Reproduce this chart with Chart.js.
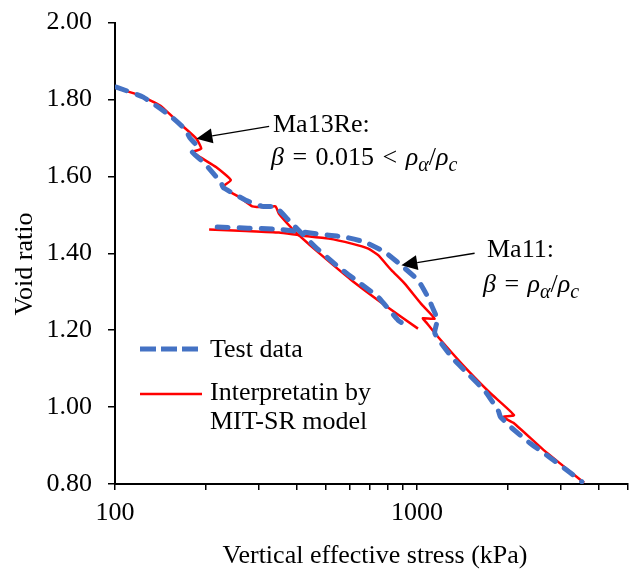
<!DOCTYPE html>
<html>
<head>
<meta charset="utf-8">
<script src="https://cdn.jsdelivr.net/npm/chart.js@4/dist/chart.umd.min.js"></script>
<style>
  html, body { margin: 0; padding: 0; background: #fff; }
</style>
</head>
<body>
<canvas id="chart" width="636" height="574"></canvas>
<script>
// Ma13Re - test data
const ma13TestStress = [101, 124, 152, 171, 177, 186, 180, 198, 225, 228, 271, 307, 340, 376, 415, 461, 550, 640, 744, 866, 934];
const ma13TestVoid   = [1.832, 1.806, 1.758, 1.722, 1.700, 1.680, 1.664, 1.634, 1.582, 1.571, 1.538, 1.522, 1.520, 1.486, 1.452, 1.416, 1.364, 1.325, 1.286, 1.226, 1.209];

// Ma13Re - MIT-SR model
const ma13ModelStress = [101, 121, 141, 164, 186, 193, 181, 216, 242, 227, 258, 285, 316, 340, 349, 385, 406, 483, 607, 783, 1008];
const ma13ModelVoid   = [1.830, 1.810, 1.784, 1.737, 1.698, 1.672, 1.663, 1.624, 1.590, 1.572, 1.546, 1.522, 1.520, 1.522, 1.503, 1.465, 1.447, 1.395, 1.330, 1.265, 1.204];

// Ma11 - test data
const ma11TestStress = [218, 349, 510, 578, 673, 783, 886, 1008, 1087, 1155, 1173, 1146, 1313, 1491, 1686, 1861, 1889, 2038, 2371, 2733, 3139, 3516];
const ma11TestVoid   = [1.468, 1.462, 1.447, 1.442, 1.429, 1.403, 1.369, 1.330, 1.286, 1.239, 1.231, 1.192, 1.127, 1.083, 1.040, 0.990, 0.975, 0.949, 0.906, 0.871, 0.836, 0.806];

// Ma11 - MIT-SR model
const ma11ModelStress = [205, 271, 349, 406, 510, 608, 690, 744, 823, 911, 1031, 1144, 1046, 1071, 1173, 1472, 1751, 2096, 1918, 2096, 2630, 3580];
const ma11ModelVoid   = [1.462, 1.458, 1.454, 1.447, 1.438, 1.425, 1.412, 1.395, 1.356, 1.321, 1.269, 1.230, 1.231, 1.221, 1.183, 1.096, 1.036, 0.979, 0.975, 0.958, 0.888, 0.803];

const xTickValues = [100, 200, 300, 400, 500, 600, 700, 800, 900, 1000, 2000, 3000, 4000, 5000];
const xTickLabels = { 100: '100', 1000: '1000' };

const FONT = '"Liberation Serif", "Times New Roman", serif';
const BLUE = '#4472C4';
const RED = '#FF0000';

function toPoints(xs, ys) {
    return xs.map((x, i) => ({ x: x, y: ys[i] }));
}

function testSet(label, xs, ys) {
    return {
        label: label,
        data: toPoints(xs, ys),
        borderColor: BLUE,
        borderWidth: 5,
        borderDash: [11, 11],
        borderCapStyle: 'round',
        pointRadius: 0,
        tension: 0.15,
        fill: false
    };
}

function modelSet(label, xs, ys) {
    return {
        label: label,
        data: toPoints(xs, ys),
        borderColor: RED,
        borderWidth: 2.5,
        pointRadius: 0,
        tension: 0.15,
        fill: false
    };
}

// text bits with italics, subscripts and gaps
function drawRich(ctx, x, y, parts, size) {
    parts.forEach(p => {
        if (p.gap) { x += p.gap; return; }
        const s = p.sub ? Math.round(size * 0.75) : size;
        ctx.font = (p.it ? 'italic ' : '') + s + 'px ' + FONT;
        ctx.fillText(p.t, x, y + (p.sub ? size * 0.22 : 0));
        x += ctx.measureText(p.t).width;
    });
}

function drawArrow(ctx, x1, y1, x2, y2) {
    const ang = Math.atan2(y2 - y1, x2 - x1);
    const hl = 16, hw = 7.5;
    const bx = x2 - hl * Math.cos(ang), by = y2 - hl * Math.sin(ang);
    ctx.beginPath();
    ctx.moveTo(x1, y1);
    ctx.lineTo(bx, by);
    ctx.stroke();
    ctx.beginPath();
    ctx.moveTo(x2, y2);
    ctx.lineTo(bx + hw * Math.sin(ang), by - hw * Math.cos(ang));
    ctx.lineTo(bx - hw * Math.sin(ang), by + hw * Math.cos(ang));
    ctx.closePath();
    ctx.fill();
}

// arrows: [stress, void] of tail and tip
const arrows = [
    { from: [324, 1.730], to: [186, 1.698] },
    { from: [1552, 1.400], to: [888, 1.369] }
];

const decorPlugin = {
    id: 'decor',
    afterDatasetsDraw(chart) {
        const ctx = chart.ctx;
        const xs = chart.scales.x, ys = chart.scales.y;
        ctx.save();
        ctx.fillStyle = '#000';
        ctx.strokeStyle = '#000';
        ctx.lineWidth = 1.3;
        ctx.textBaseline = 'alphabetic';
        ctx.textAlign = 'left';

        arrows.forEach(a => {
            drawArrow(ctx,
                xs.getPixelForValue(a.from[0]), ys.getPixelForValue(a.from[1]),
                xs.getPixelForValue(a.to[0]), ys.getPixelForValue(a.to[1]));
        });

        // annotations
        drawRich(ctx, 273, 132, [{ t: 'Ma13Re:' }], 26);
        drawRich(ctx, 271, 165, [
            { t: 'β', it: true }, { gap: 2 }, { t: ' = ' }, { gap: 2 }, { t: '0.015' },
            { gap: 2 }, { t: ' < ' }, { gap: 2 },
            { t: 'ρ', it: true }, { t: 'α', it: true, sub: true },
            { t: '/' }, { t: 'ρ', it: true }, { t: 'c', it: true, sub: true }
        ], 26);
        drawRich(ctx, 487, 257, [{ t: 'Ma11:' }], 26);
        drawRich(ctx, 483, 292, [
            { t: 'β', it: true }, { gap: 2 }, { t: ' = ' }, { gap: 2 },
            { t: 'ρ', it: true }, { t: 'α', it: true, sub: true },
            { t: '/' }, { t: 'ρ', it: true }, { t: 'c', it: true, sub: true }
        ], 26);

        // legend
        ctx.save();
        ctx.strokeStyle = BLUE;
        ctx.lineWidth = 5;
        ctx.lineCap = 'butt';
        ctx.setLineDash([16, 5]);
        ctx.beginPath();
        ctx.moveTo(140, 349);
        ctx.lineTo(198, 349);
        ctx.stroke();
        ctx.restore();
        ctx.save();
        ctx.strokeStyle = RED;
        ctx.lineWidth = 2.5;
        ctx.beginPath();
        ctx.moveTo(140, 394);
        ctx.lineTo(202, 394);
        ctx.stroke();
        ctx.restore();
        ctx.font = '26px ' + FONT;
        ctx.textBaseline = 'middle';
        ctx.fillText('Test data', 210, 350);
        ctx.fillText('Interpretatin by', 210, 393);
        ctx.fillText('MIT-SR model', 210, 422);

        // axis titles
        ctx.textAlign = 'center';
        ctx.fillText('Vertical effective stress (kPa)', 375, 556);
        ctx.translate(25, 264);
        ctx.rotate(-Math.PI / 2);
        ctx.fillText('Void ratio', 0, 0);
        ctx.restore();
    }
};

new Chart(document.getElementById('chart'), {
    type: 'line',
    data: {
        datasets: [
            testSet('Ma13Re test', ma13TestStress, ma13TestVoid),
            testSet('Ma11 test', ma11TestStress, ma11TestVoid),
            modelSet('Ma13Re model', ma13ModelStress, ma13ModelVoid),
            modelSet('Ma11 model', ma11ModelStress, ma11ModelVoid)
        ]
    },
    options: {
        responsive: false,
        animation: false,
        devicePixelRatio: 1,
        layout: { padding: { left: 0, top: 22, right: 6, bottom: 0 } },
        plugins: {
            legend: { display: false },
            tooltip: { enabled: false }
        },
        scales: {
            x: {
                type: 'logarithmic',
                min: 100,
                max: 5000,
                afterBuildTicks: s => { s.ticks = xTickValues.map(v => ({ value: v })); },
                afterFit: s => { s.height = 90; },
                grid: { drawOnChartArea: false, drawTicks: true, tickLength: 6, color: '#000', lineWidth: 1.5 },
                border: { display: true, color: '#000', width: 2 },
                ticks: {
                    autoSkip: false,
                    maxRotation: 0,
                    padding: 8,
                    color: '#000',
                    font: { family: FONT, size: 26 },
                    callback: v => xTickLabels[v] || ''
                }
            },
            y: {
                min: 0.8,
                max: 2.0,
                afterFit: s => { s.width = 115; },
                grid: { drawOnChartArea: false, drawTicks: true, tickLength: 7, color: '#000', lineWidth: 1.5 },
                border: { display: true, color: '#000', width: 2 },
                ticks: {
                    stepSize: 0.2,
                    padding: 16,
                    color: '#000',
                    font: { family: FONT, size: 26, lineHeight: 0.5 },
                    callback: v => Number(v).toFixed(2)
                }
            }
        }
    },
    plugins: [decorPlugin]
});
</script>
</body>
</html>
